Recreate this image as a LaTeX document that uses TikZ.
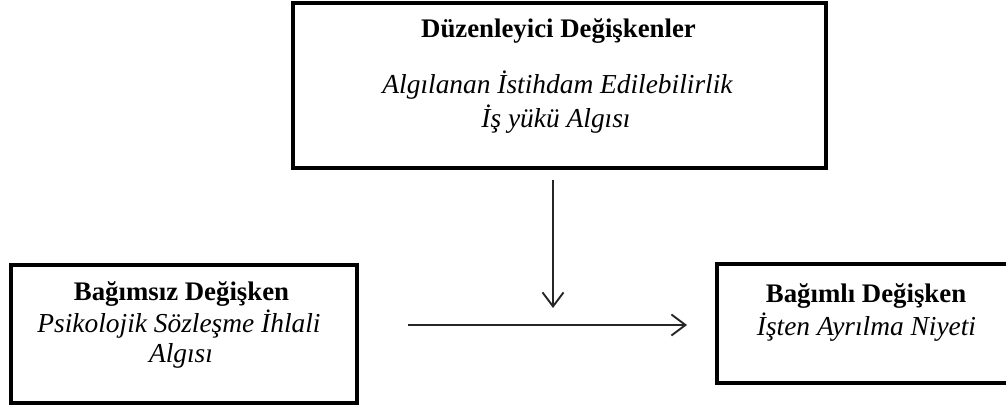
\documentclass[tikz,border=0pt]{standalone}
\usepackage{fontspec}
\setmainfont{Liberation Serif}
\usetikzlibrary{arrows.meta}
\begin{document}
\begin{tikzpicture}[x=1pt,y=-1pt,
  box/.style={draw=black,line width=3.6pt,fill=white,inner sep=0pt},
  lbl/.style={anchor=base,inner sep=0pt},
  bf/.style={lbl,font=\fontsize{26.8}{30}\selectfont\bfseries},
  it/.style={lbl,font=\fontsize{27.4}{30}\selectfont\itshape},
  conn/.style={line width=1.9pt,draw=black!85,-{Straight Barb[length=14pt,width=21pt,line width=1.9pt]}}]
\useasboundingbox (0,0) rectangle (1006,409);
% boxes
\draw[box] (293,3) rectangle (826,168);
\node[inner sep=0pt] (top) at (559.5,85.5) {};
\draw[box] (11,265) rectangle (357,403);
\node[inner sep=0pt] (left) at (184,334) {};
\draw[box] (717,264) rectangle (1012,383);
\node[inner sep=0pt] (right) at (866,323.5) {};
% texts
\node[bf] (t1) at (558.5,38) {Düzenleyici Değişkenler};
\node[it] (t2) at (557.5,94) {Algılanan İstihdam Edilebilirlik};
\node[it] (t3) at (556,128) {İş yükü Algısı};
\node[bf] (l1) at (181.5,300) {Bağımsız Değişken};
\node[it] (l2) at (179,332) {Psikolojik Sözleşme İhlali};
\node[it] (l3) at (181,362) {Algısı};
\node[bf] (r1) at (866,302) {Bağımlı Değişken};
\node[it] (r2) at (866.5,335) {İşten Ayrılma Niyeti};
% connectors
\coordinate (vs) at (553,180);
\coordinate (ve) at (553,308);
\coordinate (hs) at (408,325);
\coordinate (he) at (687,325);
\draw[conn] (vs) -- (ve);
\draw[conn] (hs) -- (he);
\end{tikzpicture}
\end{document}
